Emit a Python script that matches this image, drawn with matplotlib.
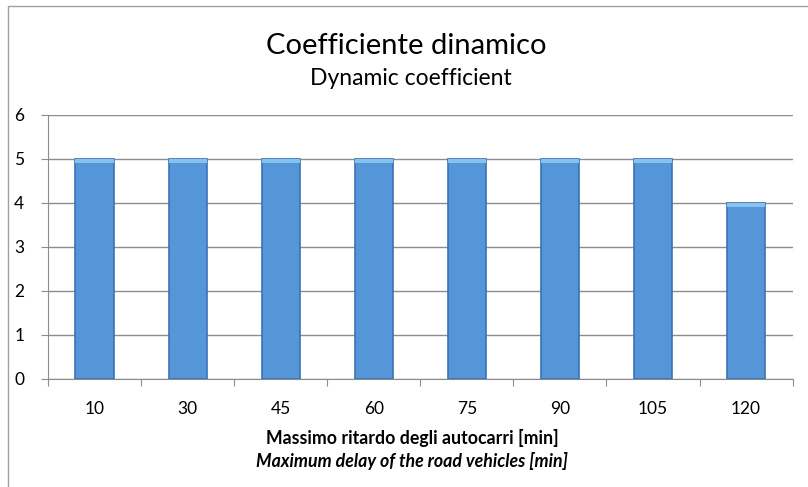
import matplotlib.pyplot as plt
from matplotlib.patches import Rectangle
import numpy as np

plt.rcParams['font.family'] = ['Lato', 'DejaVu Sans']

# data
delays = ['10', '30', '45', '60', '75', '90', '105', '120']
coeff = [5, 5, 5, 5, 5, 5, 5, 4]

fig = plt.figure(figsize=(8.08, 4.87), dpi=100)
ax = fig.add_axes([0.0594, 0.2218, 0.9216, 0.5421])

x = np.arange(len(delays))
ax.bar(x, coeff, width=0.41, color='#5596D8', edgecolor='#3B72B5', linewidth=1.2, zorder=3)
# light bevel on top of each bar
ax.bar(x, [0.08] * len(x), bottom=np.array(coeff) - 0.08, width=0.41,
       color='#86C2F0', linewidth=0, zorder=4)

ax.set_xlim(-0.5, len(delays) - 0.5)
ax.set_ylim(0, 6)
ax.set_yticks(range(0, 7))
ax.yaxis.grid(True, color='#8c8c8c', linewidth=1.0, zorder=0)

# x ticks between categories, labels in the middle
ax.set_xticks(np.arange(-0.5, len(delays), 1.0))
ax.set_xticklabels([])
ax.set_xticks(x, minor=True)
ax.set_xticklabels(delays, minor=True)
ax.tick_params(axis='x', which='minor', length=0, pad=16, labelsize=12.5)
ax.tick_params(axis='x', which='major', length=5, color='#8c8c8c', direction='out')
ax.tick_params(axis='y', length=5, color='#8c8c8c', labelsize=12.5, pad=12)

for s in ['top', 'right']:
    ax.spines[s].set_visible(False)
for s in ['left', 'bottom']:
    ax.spines[s].set_color('#8c8c8c')

fig.text(0.503, 0.905, 'Coefficiente dinamico', ha='center', va='center', fontsize=21)
fig.text(0.509, 0.838, 'Dynamic coefficient', ha='center', va='center', fontsize=16.5)
fig.text(0.51, 0.101, 'Massimo ritardo degli autocarri [min]', ha='center', va='center',
         fontsize=12.8, fontweight='bold')
fig.text(0.51, 0.053, 'Maximum delay of the road vehicles [min]', ha='center', va='center',
         fontsize=12.8, fontweight='bold', style='italic')

# chart frame
fig.patches.append(Rectangle((0.01, -0.01), 1.0, 0.997, transform=fig.transFigure,
                             fill=False, edgecolor='#a0a0a0', linewidth=1.0))

fig.savefig('out.png', dpi=100)
